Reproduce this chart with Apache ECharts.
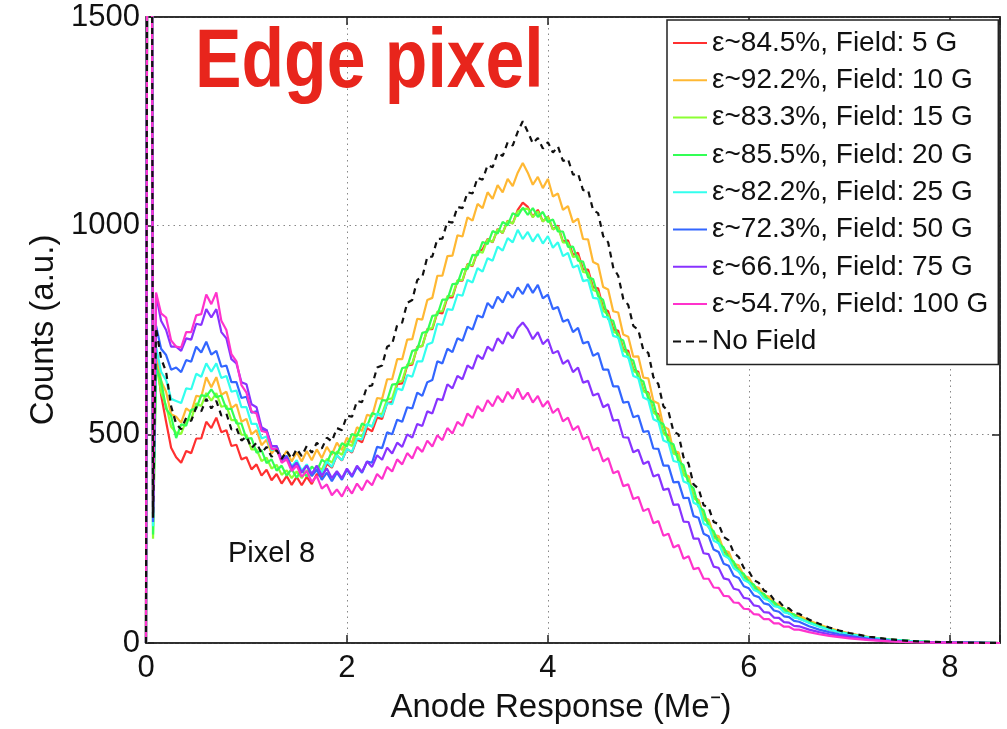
<!DOCTYPE html>
<html>
<head>
<meta charset="utf-8">
<script src="https://cdn.jsdelivr.net/npm/echarts@6/dist/echarts.min.js"></script>
<style>html,body{margin:0;padding:0;background:#fff}#c{width:1007px;height:729px}</style>
</head>
<body>
<div id="c"></div>
<script>
// x positions (Me-)
const xs = [0,0.02,0.05,0.07,
0.10,0.15,0.20,0.25,0.30,0.35,0.40,0.45,0.50,0.55,0.60,0.65,0.70,0.75,0.80,0.85,0.90,0.95,
1.00,1.05,1.10,1.15,1.20,1.25,1.30,1.35,1.40,1.45,1.50,1.55,1.60,1.65,1.70,1.75,1.80,1.85,1.90,1.95,
2.00,2.05,2.10,2.15,2.20,2.25,2.30,2.35,2.40,2.45,2.50,2.55,2.60,2.65,2.70,2.75,2.80,2.85,2.90,2.95,
3.00,3.05,3.10,3.15,3.20,3.25,3.30,3.35,3.40,3.45,3.50,3.55,3.60,3.65,3.70,3.75,3.80,3.85,3.90,3.95,
4.00,4.05,4.10,4.15,4.20,4.25,4.30,4.35,4.40,4.45,4.50,4.55,4.60,4.65,4.70,4.75,4.80,4.85,4.90,4.95,
5.00,5.05,5.10,5.15,5.20,5.25,5.30,5.35,5.40,5.45,5.50,5.55,5.60,5.65,5.70,5.75,5.80,5.85,5.90,5.95,
6.00,6.05,6.10,6.15,6.20,6.25,6.30,6.35,6.40,6.45,6.50,
6.6,6.7,6.8,6.9,7.0,7.2,7.4,7.6,7.8,8.0,8.2,8.5];

const field5 = [0,3000,3000,300,
700,595,530,468,445,432,460,455,490,490,530,515,540,505,510,472,475,440,
445,416,428,401,415,390,405,382,400,379,398,378,398,381,405,397,430,420,450,437,
465,456,488,481,515,507,540,537,575,577,620,622,665,667,710,711,752,752,792,790,
828,828,868,868,908,903,938,943,968,960,992,982,1012,1005,1038,1055,1045,1021,1038,1010,
1022,991,1000,962,965,930,935,895,895,852,850,802,795,752,748,704,700,655,650,605,
600,554,548,503,498,455,452,405,398,350,342,300,290,257,248,219,212,185,178,156,
151,131,127,109,106,91,89,76,74,64,62,
50,41,33,27,22,13,8,5,3,2,1,0];

const field10 = [0,3000,3000,290,
702,628,602,548,542,528,562,553,592,590,637,613,637,595,602,563,572,530,
537,500,510,474,487,454,470,441,460,435,457,435,460,438,464,443,470,451,480,462,
492,480,517,508,547,543,587,585,632,632,680,680,727,728,777,775,822,827,880,880,
927,928,977,974,1020,1012,1052,1042,1080,1064,1097,1080,1112,1095,1127,1150,1127,1098,1117,1090,
1112,1070,1077,1038,1047,1008,1017,968,967,913,907,853,847,795,792,739,734,686,687,636,
634,580,574,519,512,460,457,404,400,347,342,300,295,259,256,222,218,190,186,161,
157,136,132,114,111,95,93,80,78,67,66,
54,44,36,29,23,14,8,5,3,2,1,0];

const field15 = [0,3000,3000,250,
669,601,569,518,504,501,534,536,574,568,599,581,599,566,569,534,534,499,
499,464,464,436,444,418,427,403,414,395,411,395,414,401,424,415,441,432,459,451,
479,472,501,495,524,519,549,549,584,586,624,628,667,670,709,712,751,755,794,795,
831,832,869,870,907,905,939,935,967,961,991,983,1011,1005,1034,1040,1041,1020,1034,1010,
1021,991,997,960,959,925,927,889,887,846,841,796,787,746,741,700,694,652,646,603,
597,552,544,501,494,454,449,403,394,348,339,296,289,251,249,213,210,183,177,154,
150,129,126,108,105,90,88,75,73,63,61,
49,40,32,26,21,13,8,5,3,2,1,0];

const field20 = [0,3000,3000,260,
661,629,561,544,491,524,521,559,561,594,591,608,589,593,561,561,526,526,
489,491,456,462,431,440,413,425,401,417,396,416,399,423,411,439,431,459,451,479,
471,501,496,526,519,551,546,582,581,619,621,659,661,700,703,743,746,784,786,823,
823,860,861,896,896,930,929,961,956,987,981,1009,1001,1030,1023,1043,1026,1042,1021,1033,
1009,1015,986,986,949,950,916,914,876,872,831,822,776,772,731,725,683,677,634,627,
584,576,531,524,481,476,435,426,381,371,326,318,277,268,238,229,203,195,171,166,
145,140,121,118,101,99,85,83,70,69,58,
50,41,33,27,22,13,8,5,3,2,1,0];

const field25 = [0,3000,3000,280,
710,650,630,585,580,575,610,608,645,638,670,650,670,635,640,602,605,565,
565,525,525,490,495,462,468,438,448,423,438,413,428,405,422,408,435,422,450,438,
465,458,490,488,525,518,550,542,575,572,610,606,642,638,675,675,715,720,765,762,
800,798,835,832,870,864,898,890,922,916,950,940,970,960,990,968,985,962,980,957,
975,947,960,927,935,900,905,867,870,827,825,782,780,736,732,688,685,640,635,588,
582,536,530,485,480,436,433,387,382,336,330,286,280,245,239,210,203,179,171,151,
145,127,122,106,102,88,86,73,71,61,59,
48,39,32,26,21,13,8,5,3,2,1,0];

const field50 = [0,3000,3000,290,
760,705,690,655,660,649,678,674,710,696,722,691,700,662,665,625,625,587,
590,552,555,512,510,471,472,440,448,420,432,408,425,400,415,391,408,388,408,391,
415,398,422,408,435,432,470,467,505,500,535,530,565,562,600,592,625,630,675,670,
705,697,730,724,758,751,785,780,815,802,830,816,842,827,852,836,860,839,858,826,
835,800,805,770,775,745,755,718,722,688,695,655,655,615,615,576,578,541,545,506,
508,466,465,425,425,385,386,347,348,304,300,262,256,224,218,190,185,161,156,136,
131,114,110,95,92,78,75,64,62,53,51,
40,32,26,21,17,10,6,3,2,1,1,0];

const field75 = [0,3000,3000,300,
835,772,750,710,710,700,730,727,765,762,800,780,800,745,730,680,670,625,
620,572,565,517,510,471,472,438,445,418,432,408,425,405,425,401,418,395,412,395,
418,401,425,410,435,422,450,439,468,454,480,470,500,492,525,520,555,550,585,582,
620,610,640,632,665,657,690,680,710,700,730,717,745,730,755,768,752,728,745,716,
728,694,700,669,678,649,660,624,628,593,598,565,572,533,535,493,492,457,463,429,
435,399,404,367,370,331,332,291,290,250,250,215,213,183,180,155,152,130,127,108,
106,90,88,74,73,61,60,50,49,41,40,
32,26,21,17,14,8,5,3,2,1,1,0];

const field100 = [0,3000,3000,310,
840,790,780,725,710,708,745,745,785,788,835,812,840,772,750,692,675,618,
600,555,550,508,505,465,465,432,440,412,425,398,412,386,400,370,380,354,368,351,
375,358,382,366,390,378,405,393,422,411,440,428,455,442,470,458,485,471,498,486,
515,502,530,520,550,539,568,555,582,567,592,577,602,585,610,584,600,576,592,566,
580,551,562,531,540,510,520,488,495,461,468,435,443,407,412,376,380,345,350,316,
322,287,292,257,262,229,235,202,208,177,180,154,154,133,132,113,112,97,96,82,
81,69,68,57,57,47,47,39,39,32,32,
26,21,17,14,11,7,4,2,1,1,0,0];

const noField = [0,3000,3000,300,
755,682,650,567,525,512,540,532,565,555,585,562,580,545,550,512,515,485,
495,467,480,455,470,446,462,441,460,442,465,448,472,456,480,466,492,483,515,510,
545,542,580,577,615,617,660,665,710,716,762,768,815,822,870,877,925,926,968,969,
1010,1007,1045,1042,1080,1077,1115,1110,1145,1140,1175,1167,1200,1192,1225,1250,1225,1197,1210,1185,
1200,1175,1190,1155,1160,1122,1125,1085,1085,1037,1030,975,960,900,880,825,810,760,750,702,
695,637,620,567,555,507,500,445,430,380,370,330,325,290,285,254,246,216,206,180,
172,151,144,126,120,104,100,86,83,72,70,
56,46,37,30,24,15,9,5,3,2,1,0];

const seriesNames = ['ε~84.5%, Field: 5 G','ε~92.2%, Field: 10 G','ε~83.3%, Field: 15 G','ε~85.5%, Field: 20 G',
  'ε~82.2%, Field: 25 G','ε~72.3%, Field: 50 G','ε~66.1%, Field: 75 G','ε~54.7%, Field: 100 G','No Field'];
const seriesValues = [field5, field10, field15, field20, field25, field50, field75, field100, noField];
const seriesColors = ['#ff3030','#ffb833','#8cff33','#33ff55','#33ffee','#3366ff','#8833ff','#ff33cc','#111111'];
const xTicks = [0,2,4,6,8];
const yTicks = [0,500,1000,1500];

const FONT = "'Liberation Sans', Arial, Helvetica, sans-serif";
const chart = echarts.init(document.getElementById('c'), null, {renderer:'canvas'});

const series = seriesValues.map((vals, i) => ({
  name: seriesNames[i],
  type: 'line',
  data: xs.map((x, k) => [x, vals[k]]),
  symbol: 'none',
  clip: true,
  z: i === 8 ? 10 : 2 + i * 0.1,
  lineStyle: {color: seriesColors[i], width: 2.2, type: i === 8 ? [6, 5] : 'solid'},
  itemStyle: {color: seriesColors[i]},
  emphasis: {disabled: true}
}));

const solidIcon = 'path://M0,0H34V2H0Z';
const dashIcon = 'path://M0,0H8V2H0Z M13,0H21V2H13Z M26,0H34V2H26Z';

const gridLine = {show: true, lineStyle: {color: '#888', width: 1, type: [1.5, 4]}};

chart.setOption({
  animation: false,
  backgroundColor: '#fff',
  textStyle: {fontFamily: FONT},
  grid: {left: 146, right: 7, top: 17, bottom: 86, show: true, borderColor: '#222', borderWidth: 1.5, backgroundColor: '#fff'},
  legend: {
    orient: 'vertical', left: 667, top: 20,
    padding: [9, 10, 9, 6], itemGap: 9.3, itemWidth: 34, itemHeight: 2.5,
    backgroundColor: '#fff', borderColor: '#222', borderWidth: 1.5,
    textStyle: {fontSize: 28, lineHeight: 28, color: '#111', fontFamily: FONT},
    data: seriesNames.map((n, i) => ({name: n, icon: i === 8 ? dashIcon : solidIcon})),
    selectedMode: false
  },
  xAxis: [{
    type: 'value', min: 0, max: 8.5, interval: 2,
    name: 'Anode Response (Me\u207B)', nameLocation: 'middle', nameGap: 48,
    nameTextStyle: {fontSize: 33, color: '#111', fontFamily: FONT, padding: [0, 24, 0, 0]},
    axisLine: {show: true, onZero: false, lineStyle: {color: '#222', width: 1.5}},
    axisTick: {show: true, inside: true, length: 8, lineStyle: {color: '#222', width: 1.5}},
    axisLabel: {fontSize: 31, color: '#111', margin: 10, fontFamily: FONT,
      formatter: v => xTicks.indexOf(v) >= 0 ? String(v) : ''},
    splitLine: gridLine
  }, {
    type: 'value', position: 'top', min: 0, max: 8.5, interval: 2,
    axisLine: {show: true, onZero: false, lineStyle: {color: '#222', width: 1.5}},
    axisTick: {show: true, inside: true, length: 8, lineStyle: {color: '#222', width: 1.5}},
    axisLabel: {show: false}, splitLine: {show: false}
  }],
  yAxis: [{
    type: 'value', min: 0, max: 1500, interval: 500,
    name: 'Counts (a.u.)', nameLocation: 'middle', nameGap: 76, nameRotate: 90,
    nameTextStyle: {fontSize: 33, color: '#111', fontFamily: FONT},
    axisLine: {show: true, onZero: false, lineStyle: {color: '#222', width: 1.5}},
    axisTick: {show: true, inside: true, length: 8, lineStyle: {color: '#222', width: 1.5}},
    axisLabel: {fontSize: 31, color: '#111', margin: 6, fontFamily: FONT,
      formatter: v => yTicks.indexOf(v) >= 0 ? String(v) : ''},
    splitLine: gridLine
  }, {
    type: 'value', position: 'right', min: 0, max: 1500, interval: 500,
    axisLine: {show: true, onZero: false, lineStyle: {color: '#222', width: 1.5}},
    axisTick: {show: true, inside: true, length: 8, lineStyle: {color: '#222', width: 1.5}},
    axisLabel: {show: false}, splitLine: {show: false}
  }],
  graphic: [
    {type: 'text', x: 195, y: 22, scaleX: 0.83, scaleY: 1.0, z: 100,
     style: {text: 'Edge pixel', fill: '#e8251c',
       font: "bold 84px 'Liberation Sans', Arial, sans-serif"}},
    {type: 'text', left: 228, top: 539, z: 100,
     style: {text: 'Pixel 8', fill: '#111', font: "29px 'Liberation Sans', Arial, sans-serif"}}
  ],
  series: series
});
</script>
</body>
</html>
